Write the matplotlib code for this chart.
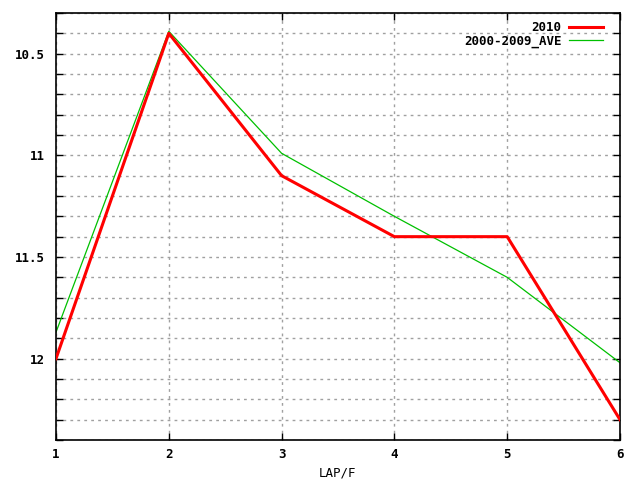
import matplotlib
matplotlib.use('Agg')
import matplotlib.pyplot as plt
from matplotlib.ticker import MultipleLocator

# data
laps = [1, 2, 3, 4, 5, 6]
pos_2010 = [12.0, 10.4, 11.1, 11.4, 11.4, 12.3]
pos_ave = [11.87, 10.39, 10.99, 11.3, 11.6, 12.02]

plt.rcParams['font.family'] = 'DejaVu Sans Mono'
plt.rcParams['font.weight'] = 'bold'
plt.rcParams['font.size'] = 9

fig = plt.figure(figsize=(6.4, 4.8), dpi=100)
ax = fig.add_axes([56 / 640, 40 / 480, 564 / 640, 427 / 480])

ax.plot(laps, pos_2010, color='#ff0000', lw=2.2, label='2010', zorder=3)
ax.plot(laps, pos_ave, color='#00c000', lw=0.9, label='2000-2009_AVE', zorder=2)

ax.set_xlim(1, 6)
ax.set_ylim(12.4, 10.3)
ax.xaxis.set_major_locator(MultipleLocator(1))
ax.yaxis.set_minor_locator(MultipleLocator(0.1))
ax.set_yticks([10.5, 11, 11.5, 12])
ax.set_yticklabels(['10.5', '11', '11.5', '12'])

ax.grid(True, which='both', color='#a0a0a0', ls=(0, (2, 3)), lw=1)
ax.tick_params(which='both', direction='in', top=True, right=True, length=5, width=1, pad=8)
ax.tick_params(axis='x', pad=6)
for s in ax.spines.values():
    s.set_linewidth(1.2)

ax.set_xlabel('LAP/F', labelpad=4)

leg = ax.legend(loc='upper right', bbox_to_anchor=(1 - 12 / 564, 1 - 3 / 427),
                frameon=False, markerfirst=False, handlelength=2.7,
                borderaxespad=0, labelspacing=0.05, handletextpad=0.6)
for t in leg.get_texts():
    t.set_ha('right')

fig.savefig('out.png', dpi=100)
